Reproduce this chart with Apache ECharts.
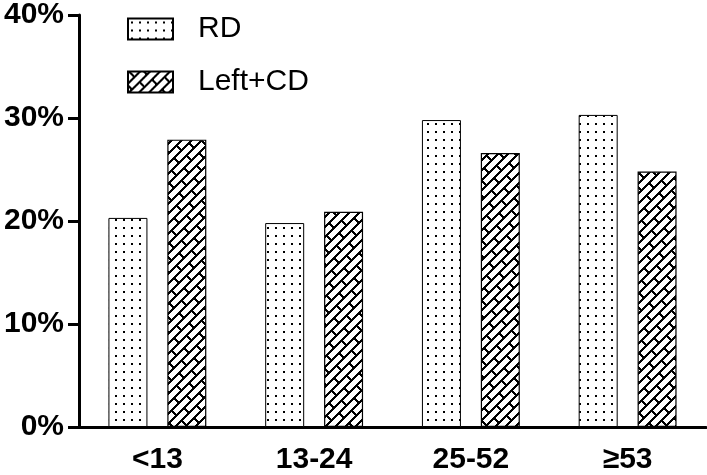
<!DOCTYPE html>
<html>
<head>
<meta charset="utf-8">
<script src="https://cdn.jsdelivr.net/npm/echarts@6/dist/echarts.min.js"></script>
<style>
  html, body { margin: 0; padding: 0; background: #fff; }
  #chart { width: 707px; height: 475px; }
</style>
</head>
<body>
<div id="chart"></div>
<script>
  // data
  var categories = ['<13', '13-24', '25-52', '≥53']
  var rdValues = [20.3, 19.8, 29.8, 30.3]
  var leftCdValues = [27.9, 20.9, 26.6, 24.8]
  var yTicks = [0, 10, 20, 30, 40]

  // dotted fill
  function dotPattern() {
    var c = document.createElement('canvas')
    c.width = 8; c.height = 8
    var ctx = c.getContext('2d')
    ctx.fillStyle = '#fff'
    ctx.fillRect(0, 0, 8, 8)
    ctx.fillStyle = '#000'
    ctx.fillRect(3, 3, 2, 2)
    return c
  }

  // diagonal brick fill (one big tile covering the whole chart)
  function brickPattern() {
    var W = 720, H = 480, S = 10, L = 30
    var c = document.createElement('canvas')
    c.width = W; c.height = H
    var ctx = c.getContext('2d')
    var img = ctx.createImageData(W, H)
    for (var y = 0; y < H; y++) {
      for (var x = 0; x < W; x++) {
        var u = x + y
        var v = x - y
        var k = Math.floor(u / S)
        var line = (u % S) < 3
        var joint = ((((v + k * L / 2) % L) + L) % L) < 3
        var val = (line || joint) ? 0 : 255
        var i = (y * W + x) * 4
        img.data[i] = val; img.data[i + 1] = val; img.data[i + 2] = val; img.data[i + 3] = 255
      }
    }
    ctx.putImageData(img, 0, 0)
    return c
  }

  var font = "'Liberation Sans', Arial, sans-serif"
  var myChart = echarts.init(document.getElementById('chart'))
  var option = {
    animation: false,
    backgroundColor: '#fff',
    grid: { left: 79, right: 1, top: 13, bottom: 44 },
    legend: {
      orient: 'vertical',
      left: 127,
      top: 14,
      padding: 0,
      itemWidth: 45,
      itemHeight: 21,
      itemGap: 23,
      icon: 'rect',
      data: ['RD', 'Left+CD'],
      textStyle: { fontFamily: font, fontSize: 30, color: '#000', padding: [0, 0, 0, 20] }
    },
    xAxis: {
      type: 'category',
      data: categories,
      axisLine: { lineStyle: { color: '#000', width: 3 } },
      axisTick: { alignWithLabel: true, length: 11, lineStyle: { color: '#000', width: 3 } },
      axisLabel: { color: '#000', fontFamily: font, fontWeight: 'bold', fontSize: 30, margin: 18 }
    },
    yAxis: {
      type: 'value',
      min: yTicks[0],
      max: yTicks[yTicks.length - 1],
      interval: 10,
      splitLine: { show: false },
      axisLine: { show: true, lineStyle: { color: '#000', width: 3 } },
      axisTick: { show: true, length: 11, lineStyle: { color: '#000', width: 3 } },
      axisLabel: { color: '#000', fontFamily: font, fontWeight: 'bold', fontSize: 30, margin: 15, formatter: '{value}%' }
    },
    series: [
      {
        name: 'RD',
        type: 'bar',
        barWidth: 39,
        barGap: '51%',
        data: rdValues,
        itemStyle: { color: { image: dotPattern(), repeat: 'repeat' }, borderColor: '#000', borderWidth: 1 }
      },
      {
        name: 'Left+CD',
        type: 'bar',
        barWidth: 39,
        data: leftCdValues,
        itemStyle: { color: { image: brickPattern(), repeat: 'repeat' }, borderColor: '#000', borderWidth: 1.2 }
      }
    ]
  }
  option && myChart.setOption(option)
</script>
</body>
</html>
